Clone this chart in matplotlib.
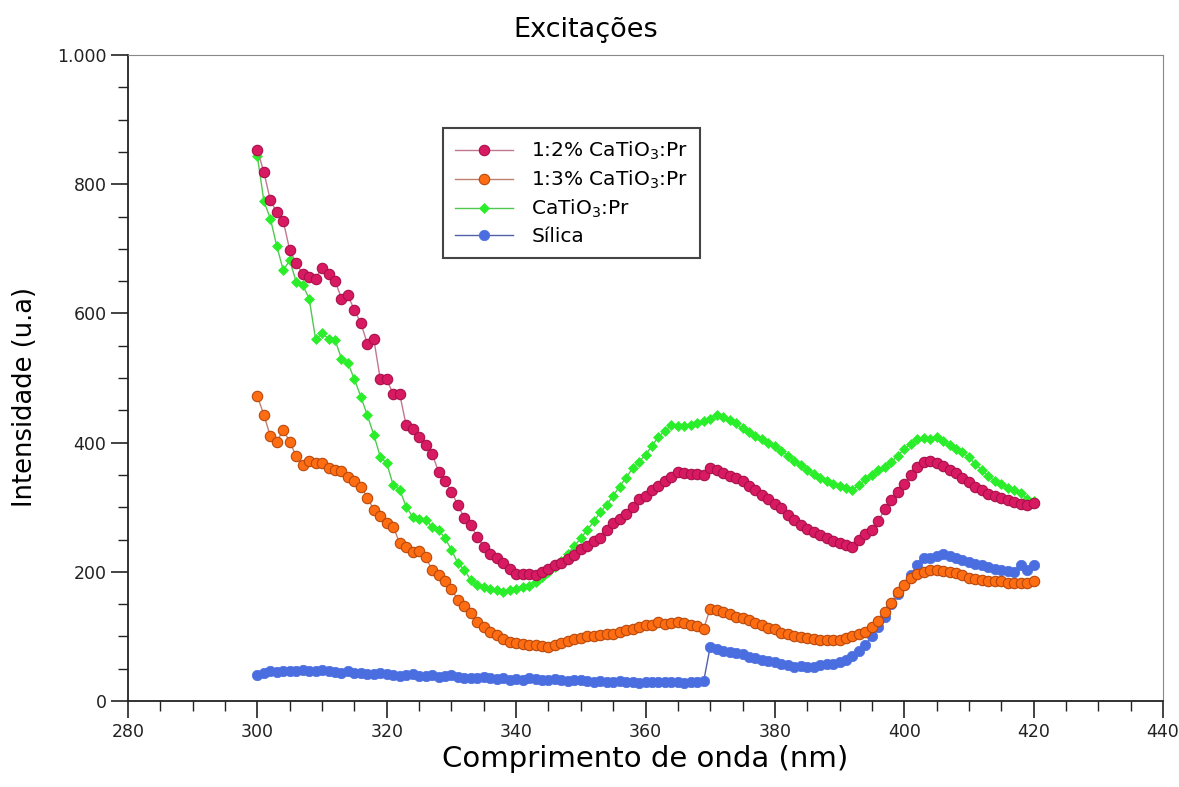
import numpy as np
import matplotlib
matplotlib.use("Agg")
import matplotlib.pyplot as plt
from matplotlib.ticker import MultipleLocator, FuncFormatter

# comprimento de onda (nm), passo de 1 nm
wavelength = np.arange(300, 421)

# 1:2% CaTiO3:Pr
serie_12 = [853, 819, 775, 757, 743, 698, 678, 661, 657, 654,
            671, 661, 651, 623, 628, 605, 585, 553, 560, 498,
            498, 475, 475, 427, 421, 409, 396, 383, 355, 340,
            324, 303, 283, 272, 254, 239, 228, 221, 213, 205,
            197, 197, 197, 195, 200, 205, 210, 213, 220, 226,
            235, 240, 248, 253, 265, 275, 282, 290, 300, 312,
            318, 327, 333, 340, 347, 354, 353, 352, 351, 350,
            360, 357, 353, 349, 346, 340, 333, 326, 319, 312,
            305, 299, 288, 280, 273, 267, 262, 257, 252, 248,
            244, 241, 239, 250, 258, 265, 278, 298, 311, 324,
            336, 350, 362, 370, 371, 369, 364, 358, 353, 346,
            339, 332, 326, 321, 317, 314, 311, 308, 305, 304,
            306]

# 1:3% CaTiO3:Pr
serie_13 = [472, 443, 410, 401, 420, 401, 379, 365, 372, 369,
            369, 360, 358, 356, 347, 340, 332, 315, 296, 286,
            276, 270, 244, 239, 231, 232, 223, 203, 195, 185,
            174, 156, 147, 136, 122, 114, 107, 102, 96, 92,
            90, 88, 87, 86, 85, 84, 87, 90, 93, 96,
            98, 100, 101, 102, 103, 104, 107, 110, 112, 115,
            117, 118, 122, 119, 120, 123, 120, 118, 116, 112,
            143, 141, 138, 134, 130, 128, 125, 120, 117, 113,
            112, 106, 104, 101, 99, 98, 96, 95, 94, 94,
            95, 97, 100, 104, 107, 115, 124, 137, 152, 168,
            180, 190, 197, 200, 203, 203, 202, 200, 198, 195,
            191, 189, 187, 186, 185, 185, 183, 182, 182, 182,
            185]

# CaTiO3:Pr
serie_pura = [843, 774, 747, 704, 667, 682, 649, 644, 623, 560,
              569, 561, 559, 530, 523, 498, 471, 442, 412, 378,
              368, 334, 327, 301, 285, 282, 280, 270, 265, 252,
              234, 213, 203, 187, 180, 177, 174, 172, 169, 172,
              174, 176, 178, 184, 192, 200, 208, 216, 228, 240,
              252, 265, 278, 292, 304, 318, 332, 346, 360, 370,
              381, 395, 409, 418, 427, 426, 425, 428, 430, 433,
              437, 443, 440, 435, 430, 422, 416, 411, 405, 400,
              394, 387, 380, 372, 366, 358, 352, 346, 340, 336,
              333, 330, 327, 334, 343, 350, 358, 363, 370, 380,
              390, 398, 405, 407, 406, 409, 402, 396, 390, 385,
              377, 367, 357, 348, 341, 336, 330, 326, 322, 313,
              309]

# Sílica
serie_silica = [40, 44, 46, 45, 47, 46, 47, 48, 47, 46,
                48, 46, 45, 44, 46, 43, 44, 42, 41, 43,
                41, 40, 39, 40, 41, 39, 38, 40, 37, 38,
                40, 37, 36, 35, 36, 37, 35, 34, 36, 33,
                34, 33, 35, 34, 32, 33, 34, 32, 31, 33,
                32, 31, 30, 31, 30, 29, 31, 30, 29, 28,
                29, 30, 29, 30, 29, 30, 28, 29, 30, 31,
                84, 80, 78, 76, 74, 72, 68, 66, 64, 62,
                60, 58, 55, 53, 54, 52, 53, 55, 57, 58,
                60, 64, 70, 78, 86, 100, 115, 130, 150, 165,
                180, 195, 210, 222, 221, 224, 228, 225, 221, 218,
                215, 212, 210, 207, 204, 203, 201, 199, 210, 203,
                211]

fig = plt.figure(figsize=(11.79, 7.87), dpi=100)
ax = fig.add_axes([0.1086, 0.1093, 0.8778, 0.8207])

# séries (ordem da legenda)
ax.plot(wavelength, serie_12, '-o', color='#c07890', lw=1.0, ms=7.5,
        mfc='#d81a62', mec='#a8104a', mew=0.8, label='1:2% CaTiO$_3$:Pr', zorder=5)
ax.plot(wavelength, serie_13, '-o', color='#c08070', lw=1.0, ms=7.5,
        mfc='#ff6d12', mec='#b8480c', mew=0.8, label='1:3% CaTiO$_3$:Pr', zorder=3)
ax.plot(wavelength, serie_pura, '-D', color='#50c850', lw=1.0, ms=5,
        mfc='#2aee2a', mec='#2aee2a', mew=0.5, label='CaTiO$_3$:Pr', zorder=4)
ax.plot(wavelength, serie_silica, '-o', color='#5060a8', lw=1.0, ms=7.5,
        mfc='#4a6ee0', mec='#4a6ee0', mew=0.5, label='Sílica', zorder=2)

# eixos
ax.set_xlim(280, 440)
ax.set_ylim(0, 1000)
ax.xaxis.set_major_locator(MultipleLocator(20))
ax.xaxis.set_minor_locator(MultipleLocator(5))
ax.yaxis.set_major_locator(MultipleLocator(200))
ax.yaxis.set_minor_locator(MultipleLocator(50))
ax.yaxis.set_major_formatter(FuncFormatter(lambda v, _: f"{int(v):,}".replace(",", ".")))
ax.tick_params(which='major', direction='out', length=12, width=1.2, labelsize=12.5,
               colors='#222222')
ax.tick_params(which='minor', direction='out', length=7, width=1.0, colors='#222222')

for s in ['left', 'bottom']:
    ax.spines[s].set_color('#222222')
    ax.spines[s].set_linewidth(1.3)
for s in ['top', 'right']:
    ax.spines[s].set_color('#888888')
    ax.spines[s].set_linewidth(0.8)

ax.set_xlabel('Comprimento de onda (nm)', fontsize=21, labelpad=3)
ax.set_ylabel('Intensidade (u.a)', fontsize=18.5)
ax.yaxis.set_label_coords(-0.087, 0.47)
fig.text(0.497, 0.962, 'Excitações', ha='center', va='center', fontsize=19.5)

# legenda
leg = ax.legend(loc='upper left', bbox_to_anchor=(0.304, 0.887), borderaxespad=0,
                fontsize=14.5, fancybox=False, edgecolor='#444444', framealpha=1,
                handlelength=2.9, handletextpad=0.9, borderpad=0.6, labelspacing=0.33)
leg.get_frame().set_linewidth(1.5)

fig.savefig('out.png', dpi=100)
